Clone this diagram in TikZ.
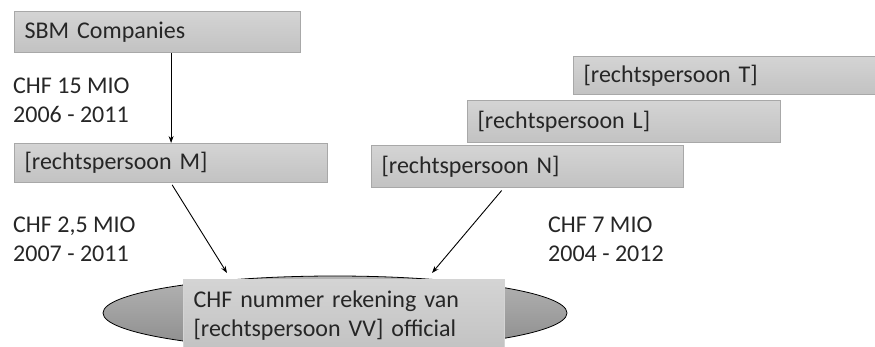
\documentclass[tikz,border=0pt]{standalone}
\usepackage{fontspec}
\setmainfont{Carlito}
\usetikzlibrary{arrows.meta}
\usetikzlibrary{shapes.geometric}

\definecolor{boxtop}{HTML}{D4D4D4}
\definecolor{boxbot}{HTML}{C2C2C2}
\definecolor{boxline}{HTML}{A8A8A8}
\definecolor{ovaltop}{HTML}{B4B4B4}
\definecolor{ovalbot}{HTML}{8C8C8C}
\definecolor{ink}{HTML}{262626}

\tikzset{
  box/.style={draw=boxline, line width=1.2pt, top color=boxtop, bottom color=boxbot,
    anchor=north west, inner xsep=10pt, inner ysep=0pt, align=left, text=ink},
  amount/.style={anchor=west, inner sep=0pt, align=left, text=ink},
  arr/.style={-{Stealth[length=7pt,width=5pt]}, line width=0.9pt}
}

\begin{document}
\begin{tikzpicture}[x=1pt,y=-1pt,font=\fontsize{24}{29}\selectfont]
\useasboundingbox (0,0) rectangle (875,347);
\node [box, text width=266pt, minimum height=41pt] (sbm) at (14,11) {SBM Companies};
\node [box, text width=293pt, minimum height=39pt] (m) at (14,143) {[rechtspersoon M]};
\node [box, text width=282pt, minimum height=38pt] (t) at (573,56) {[rechtspersoon T]};
\node [box, text width=293pt, minimum height=42pt] (l) at (467,100) {[rechtspersoon L]};
\node [box, text width=292pt, minimum height=42pt] (n) at (371,145) {[rechtspersoon N]};
\node [ellipse, draw=black, line width=0.8pt, top color=ovaltop, bottom color=ovalbot,
  minimum width=464pt, minimum height=74pt, inner sep=0pt] (acct) at (335,313) {};
\node [box, draw=boxtop, text width=301pt, minimum height=72pt] (acctbox) at (183,279)
  {CHF nummer rekening van\\{}[rechtspersoon VV] official};
\node [amount] (amt15) at (13,100) {CHF 15 MIO\\2006 - 2011};
\node [amount] (amt25) at (13,239) {CHF 2,5 MIO\\2007 - 2011};
\node [amount] (amt7) at (548,239) {CHF 7 MIO\\2004 - 2012};
\coordinate (inM) at (227,273);
\coordinate (inN) at (432,273);
\draw [arr] (sbm.south -| m.north) -- (m.north);
\draw [arr, shorten <=2pt] (m.south) -- (inM);
\draw [arr, shorten <=3pt] ([xshift=-24pt]n.south) -- (inN);
\end{tikzpicture}
\end{document}
